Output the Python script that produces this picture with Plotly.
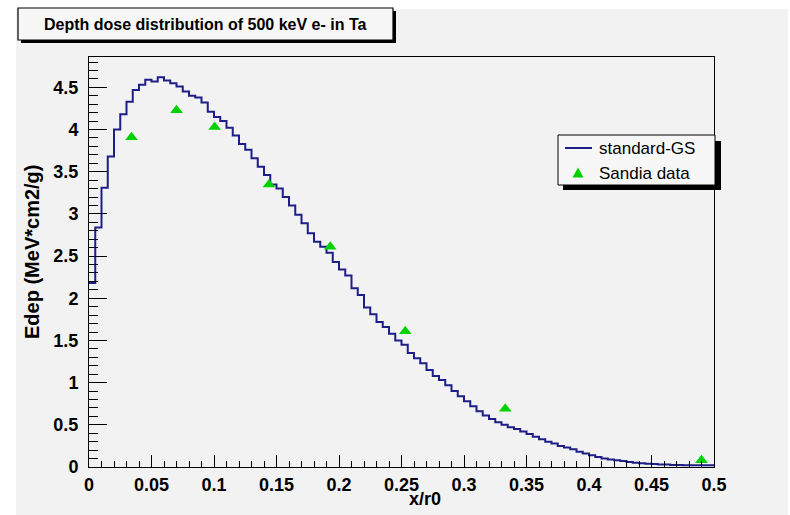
import numpy as np
import plotly.graph_objects as go

# ---------------- data ----------------
x_min, x_max, n_bins = 0.0, 0.5, 100
edep_standard_gs = [
    2.18, 2.84, 3.31, 3.68, 4.00, 4.18, 4.33, 4.47, 4.53, 4.59,
    4.57, 4.62, 4.58, 4.55, 4.51, 4.45, 4.40, 4.38, 4.32, 4.21,
    4.15, 4.10, 4.02, 3.93, 3.83, 3.76, 3.66, 3.56, 3.46, 3.35,
    3.30, 3.20, 3.10, 2.99, 2.89, 2.77, 2.67, 2.61, 2.54, 2.43,
    2.34, 2.27, 2.12, 2.04, 1.89, 1.81, 1.72, 1.66, 1.58, 1.50,
    1.45, 1.35, 1.29, 1.23, 1.15, 1.08, 1.03, 0.97, 0.90, 0.84,
    0.78, 0.72, 0.66, 0.61, 0.57, 0.53, 0.50, 0.47, 0.45, 0.42,
    0.39, 0.36, 0.33, 0.30, 0.28, 0.25, 0.23, 0.21, 0.18, 0.16,
    0.14, 0.12, 0.10, 0.09, 0.08, 0.07, 0.06, 0.05, 0.045, 0.04,
    0.035, 0.03, 0.03, 0.025, 0.025, 0.02, 0.02, 0.02, 0.02, 0.02,
]
sandia_x = [0.034, 0.070, 0.1005, 0.144, 0.193, 0.253, 0.333, 0.490]
sandia_y = [3.91, 4.23, 4.03, 3.35, 2.61, 1.61, 0.69, 0.08]

title_text = "Depth dose distribution of 500 keV e- in Ta"
x_title = "x/r0"
y_title = "Edep (MeV*cm2/g)"
legend_labels = ["standard-GS", "Sandia data"]

# ---------------- styles / layout geometry ----------------
W, H = 790, 515
L, R, T, B = 89, 714, 57, 467
Y_TOP = 4.86
LINE_COL = "#1e1e88"
MARK_COL = "#00d200"
CANVAS = "#f2f2f2"
FONT = "Liberation Sans, Arial"

def px(x):
    return (x - L) / (R - L)

def py(y):
    return (B - y) / (B - T)

edges = np.linspace(x_min, x_max, n_bins + 1)
hx = list(edges)
hy = list(edep_standard_gs) + [edep_standard_gs[-1]]

fig = go.Figure()
fig.add_trace(go.Scatter(
    x=hx, y=hy, mode="lines", line=dict(color=LINE_COL, width=2, shape="hv"),
    showlegend=False, hoverinfo="skip"))
fig.add_trace(go.Scatter(
    x=sandia_x, y=sandia_y, mode="markers",
    marker=dict(symbol="triangle-up", size=11, color=MARK_COL, line=dict(width=0)),
    showlegend=False))

tickfont = dict(family=FONT, size=18, color="black", weight="bold")

fig.update_xaxes(
    range=[x_min, x_max], dtick=0.05, tick0=0, ticks="inside", ticklen=12,
    tickwidth=1, tickcolor="black", showline=True, linecolor="black",
    linewidth=1, mirror=True, showgrid=False, zeroline=False,
    tickfont=tickfont, ticklabelstandoff=1,
    minor=dict(ticks="inside", ticklen=6, dtick=0.01, tickcolor="black",
               tickwidth=1, showgrid=False))
fig.update_yaxes(
    range=[0, Y_TOP], dtick=0.5, tick0=0, ticks="inside", ticklen=18,
    tickwidth=1, tickcolor="black", showline=True, linecolor="black",
    linewidth=1, mirror=True, showgrid=False, zeroline=False,
    tickfont=tickfont, ticklabelstandoff=6,
    minor=dict(ticks="inside", ticklen=9, dtick=0.1, tickcolor="black",
               tickwidth=1, showgrid=False))

shapes = []
# canvas (grey) on white page
shapes.append(dict(type="rect", xref="paper", yref="paper", layer="below",
                   x0=px(16), x1=px(788), y0=py(9), y1=py(515),
                   fillcolor=CANVAS, line=dict(width=0)))
# title box shadow + box
shapes.append(dict(type="rect", xref="paper", yref="paper",
                   x0=px(21), x1=px(396), y0=py(11), y1=py(43),
                   fillcolor="black", line=dict(width=0)))
shapes.append(dict(type="rect", xref="paper", yref="paper",
                   x0=px(18), x1=px(393), y0=py(8), y1=py(40),
                   fillcolor="#f7f7f7", line=dict(color="black", width=1.2)))
# legend shadow + box
shapes.append(dict(type="rect", xref="paper", yref="paper",
                   x0=px(563), x1=px(721), y0=py(141), y1=py(190),
                   fillcolor="black", line=dict(width=0)))
shapes.append(dict(type="rect", xref="paper", yref="paper",
                   x0=px(558), x1=px(715), y0=py(135), y1=py(185),
                   fillcolor="#f7f7f7", line=dict(color="black", width=1)))
# legend samples
shapes.append(dict(type="line", xref="paper", yref="paper",
                   x0=px(565), x1=px(592), y0=py(148), y1=py(148),
                   line=dict(color=LINE_COL, width=2)))
tx, ty, s = 578, 173, 5.5
shapes.append(dict(type="path", xref="paper", yref="paper",
                   path=f"M {px(tx - s)} {py(ty + s * 0.8)} L {px(tx + s)} {py(ty + s * 0.8)} "
                        f"L {px(tx)} {py(ty - s * 1.0)} Z",
                   fillcolor=MARK_COL, line=dict(width=0)))

annotations = [
    dict(text=title_text, xref="paper", yref="paper", x=px(205.5), y=py(24.5),
         xanchor="center", yanchor="middle", showarrow=False,
         font=dict(family=FONT, size=16, color="black", weight="bold")),
    dict(text=x_title, xref="paper", yref="paper", x=px(425), y=py(499),
         xanchor="center", yanchor="middle", showarrow=False,
         font=dict(family=FONT, size=18, color="black", weight="bold")),
    dict(text=y_title, xref="paper", yref="paper", x=px(32), y=py(252),
         xanchor="center", yanchor="middle", showarrow=False, textangle=-90,
         font=dict(family=FONT, size=20, color="black", weight="bold")),
    dict(text=legend_labels[0], xref="paper", yref="paper", x=px(597), y=py(148),
         xanchor="left", yanchor="middle", showarrow=False,
         font=dict(family=FONT, size=17, color="black")),
    dict(text=legend_labels[1], xref="paper", yref="paper", x=px(597), y=py(173),
         xanchor="left", yanchor="middle", showarrow=False,
         font=dict(family=FONT, size=17, color="black")),
]

fig.update_layout(
    width=W, height=H, autosize=False,
    margin=dict(l=L, r=W - R, t=T, b=H - B, pad=0),
    paper_bgcolor="white", plot_bgcolor=CANVAS,
    shapes=shapes, annotations=annotations, showlegend=False,
)

fig.write_html("out.html")
